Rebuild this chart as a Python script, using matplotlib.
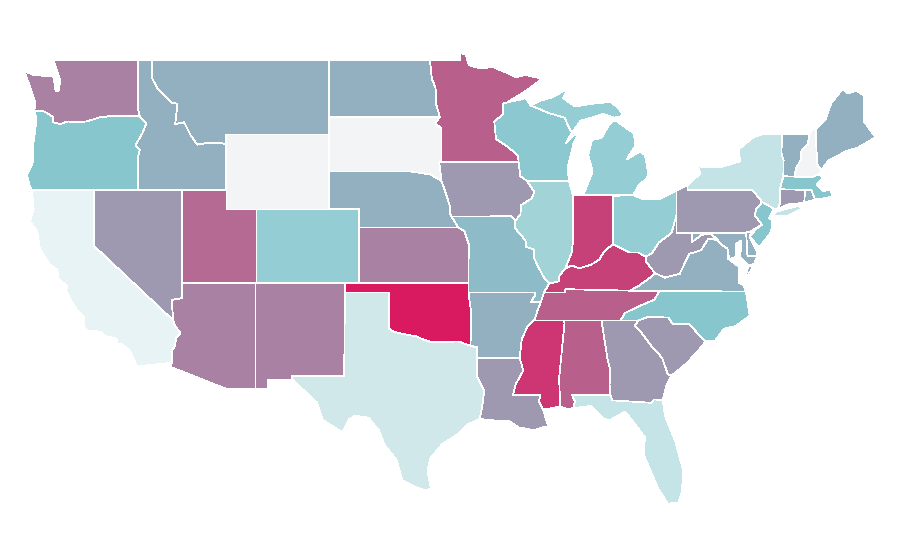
import matplotlib
matplotlib.use("Agg")
import matplotlib.pyplot as plt
from matplotlib.colors import LinearSegmentedColormap

# Choropleth values per state (read from the fill shade)
values = {
    "WA": 64, "OR": 40, "CA": 7, "NV": 56, "ID": 48, "MT": 48, "WY": 0, "UT": 72,
    "AZ": 64, "CO": 35, "NM": 64, "ND": 48, "SD": 0, "NE": 48, "KS": 64, "OK": 100,
    "TX": 16, "MN": 76, "IA": 56, "MO": 44, "AR": 48, "LA": 56, "WI": 39, "IL": 30,
    "IN": 86, "OH": 35, "MI": 35, "KY": 86, "TN": 76, "MS": 90, "AL": 76, "GA": 56,
    "FL": 20, "SC": 56, "NC": 40, "VA": 48, "WV": 56, "MD": 48, "DE": 48, "PA": 56,
    "NJ": 40, "NY": 21, "VT": 48, "NH": 0, "ME": 48, "MA": 40, "RI": 48, "CT": 56,
}

# State outlines as (longitude, latitude); a state may have several parts
shapes = {
    "WA": [[(-122.76,49),(-117.03,49),(-117.04,46.42),(-116.92,45.99),(-118.98,46),(-119.3,45.93),(-119.6,45.92),(-120.5,45.7),(-121.2,45.65),(-121.8,45.7),(-122.3,45.55),(-122.76,45.65),(-122.8,45.95),(-123.2,46.15),(-123.5,46.27),(-124.05,46.27),(-124,46.7),(-124.1,47),(-124.4,47.7),(-124.73,48.38),(-124,48.17),(-123.1,48.15),(-122.75,48.1),(-122.6,47.3),(-122.4,47.35),(-122.3,47.9),(-122.5,48.4)]],
    "OR": [[(-124.05,46.27),(-123.5,46.27),(-123.2,46.15),(-122.8,45.95),(-122.76,45.65),(-122.3,45.55),(-121.8,45.7),(-121.2,45.65),(-120.5,45.7),(-119.6,45.92),(-119.3,45.93),(-118.98,46),(-116.92,45.99),(-116.46,45.6),(-116.7,45.1),(-117.2,44.4),(-117.03,44.25),(-116.9,44.15),(-117.03,43.8),(-117.03,42),(-124.21,42),(-124.4,42.3),(-124.55,42.84),(-124.15,43.5),(-124.1,44.6),(-123.95,45.5),(-123.95,46)]],
    "CA": [[(-124.21,42),(-120,42),(-120,39),(-114.63,35),(-114.57,34.8),(-114.14,34.3),(-114.43,34.05),(-114.53,33.6),(-114.72,33.4),(-114.72,32.72),(-117.12,32.53),(-117.25,32.85),(-117.6,33.4),(-118.1,33.72),(-118.4,33.75),(-118.5,34.03),(-119.2,34.15),(-119.6,34.4),(-120.47,34.45),(-120.65,34.6),(-120.65,35.15),(-121.3,35.7),(-121.9,36.6),(-121.8,36.85),(-122.4,37.2),(-122.5,37.75),(-123,38),(-123.7,38.9),(-123.85,39.8),(-124.35,40.3),(-124.1,41)]],
    "NV": [[(-120,42),(-117.03,42),(-114.04,42),(-114.04,36.2),(-114.75,36.1),(-114.63,35),(-120,39)]],
    "ID": [[(-117.03,49),(-116.05,49),(-116.05,48),(-115.7,47.45),(-114.7,46.7),(-114.35,46.65),(-114.5,45.56),(-113.9,45.65),(-113.45,44.95),(-113,44.45),(-112.3,44.55),(-111.5,44.55),(-111.05,44.48),(-111.05,42),(-117.03,42),(-117.03,43.8),(-116.9,44.15),(-117.03,44.25),(-117.2,44.4),(-116.7,45.1),(-116.46,45.6),(-116.92,45.99),(-117.04,46.42)]],
    "MT": [[(-116.05,49),(-104.05,49),(-104.05,45),(-111.05,45),(-111.05,44.48),(-111.5,44.55),(-112.3,44.55),(-113,44.45),(-113.45,44.95),(-113.9,45.65),(-114.5,45.56),(-114.35,46.65),(-114.7,46.7),(-115.7,47.45),(-116.05,48)]],
    "WY": [[(-111.05,45),(-104.05,45),(-104.05,41),(-111.05,41)]],
    "UT": [[(-114.04,42),(-111.05,42),(-111.05,41),(-109.05,41),(-109.05,37),(-114.04,37)]],
    "CO": [[(-109.05,41),(-102.05,41),(-102.05,37),(-109.05,37)]],
    "AZ": [[(-114.04,37),(-109.05,37),(-109.05,31.33),(-111.07,31.33),(-114.81,32.5),(-114.72,32.72),(-114.72,33.4),(-114.53,33.6),(-114.43,34.05),(-114.14,34.3),(-114.57,34.8),(-114.63,35),(-114.75,36.1),(-114.04,36.2)]],
    "NM": [[(-109.05,37),(-103,37),(-103.04,32),(-106.62,32),(-106.53,31.78),(-108.2,31.78),(-108.2,31.33),(-109.05,31.33)]],
    "ND": [[(-104.05,49),(-97.23,49),(-97.1,48),(-96.85,47.5),(-96.8,46.6),(-96.56,45.94),(-104.05,45.94)]],
    "SD": [[(-104.05,45.94),(-96.56,45.94),(-96.85,45.6),(-96.45,45.3),(-96.45,43.5),(-96.6,43.5),(-96.44,42.49),(-97.2,42.85),(-98.5,43),(-104.05,43)]],
    "NE": [[(-104.05,43),(-98.5,43),(-97.2,42.85),(-96.44,42.49),(-96.1,41.7),(-95.9,41.2),(-95.85,40.7),(-95.31,40),(-102.05,40),(-102.05,41),(-104.05,41)]],
    "KS": [[(-102.05,40),(-95.31,40),(-94.9,39.8),(-94.6,39.1),(-94.62,37),(-102.05,37)]],
    "OK": [[(-103,37),(-94.62,37),(-94.43,35.4),(-94.48,33.64),(-95.3,33.87),(-96,33.85),(-96.6,33.85),(-97.2,33.85),(-97.7,33.98),(-98.1,34.13),(-99.2,34.3),(-99.7,34.4),(-100,34.56),(-100,36.5),(-103,36.5)]],
    "TX": [[(-106.62,32),(-103.04,32),(-103,36.5),(-100,36.5),(-100,34.56),(-99.7,34.4),(-99.2,34.3),(-98.1,34.13),(-97.7,33.98),(-97.2,33.85),(-96.6,33.85),(-96,33.85),(-95.3,33.87),(-94.48,33.64),(-94.04,33.55),(-94.04,33),(-94.04,31.99),(-93.55,31.2),(-93.7,30.3),(-93.85,29.7),(-94.7,29.4),(-95.3,28.9),(-96.4,28.35),(-97.2,27.6),(-97.4,26.9),(-97.15,25.96),(-97.55,25.85),(-98.2,26.05),(-99.1,26.4),(-99.5,27.5),(-100.3,28.3),(-100.7,29.1),(-101.4,29.77),(-102.3,29.88),(-102.7,29.7),(-103.15,28.98),(-104.5,29.65),(-104.9,30.6),(-106,31.4),(-106.53,31.78)]],
    "MN": [[(-97.23,49),(-95.15,49),(-95.15,49.38),(-94.8,49.3),(-94.6,48.72),(-93.8,48.55),(-92.95,48.62),(-92,48.3),(-91.4,48.07),(-90.8,48.2),(-89.6,48),(-90.8,47.3),(-92,46.72),(-92.29,46.66),(-92.29,46.07),(-92.87,45.7),(-92.75,44.75),(-91.9,44.3),(-91.25,43.85),(-91.22,43.5),(-96.45,43.5),(-96.45,45.3),(-96.85,45.6),(-96.56,45.94),(-96.8,46.6),(-96.85,47.5),(-97.1,48)]],
    "IA": [[(-96.45,43.5),(-91.22,43.5),(-91.1,42.75),(-90.65,42.5),(-90.15,41.9),(-90.35,41.55),(-91.05,41.2),(-91.1,40.7),(-91.42,40.38),(-91.7,40.6),(-95.77,40.58),(-95.85,40.7),(-95.9,41.2),(-96.1,41.7),(-96.44,42.49),(-96.6,43.5)]],
    "MO": [[(-95.77,40.58),(-91.7,40.6),(-91.42,40.38),(-91.5,40),(-90.75,39.3),(-90.7,38.95),(-90.15,38.8),(-90.2,38.4),(-89.9,37.9),(-89.5,37.3),(-89.15,36.98),(-89.5,36.5),(-89.7,36),(-90.37,36),(-90.07,36.4),(-90.15,36.5),(-94.62,36.5),(-94.62,37),(-94.6,39.1),(-94.9,39.8),(-95.31,40)]],
    "AR": [[(-94.62,36.5),(-90.15,36.5),(-90.07,36.4),(-90.37,36),(-89.7,36),(-89.95,35.5),(-90.1,35.1),(-90.6,34.7),(-91,34),(-91.15,33),(-94.04,33),(-94.04,33.55),(-94.48,33.64),(-94.43,35.4)]],
    "LA": [[(-94.04,33),(-91.15,33),(-90.9,32.3),(-91.4,31.6),(-91.6,31),(-89.73,31),(-89.85,30.65),(-89.55,30.2),(-89.4,29.8),(-89.2,29.3),(-89.6,29.25),(-90.2,29.1),(-91.2,29.25),(-91.9,29.6),(-92.6,29.6),(-93.85,29.7),(-93.7,30.3),(-93.55,31.2),(-94.04,31.99)]],
    "WI": [[(-92.29,46.66),(-92,46.72),(-91.2,46.85),(-90.75,46.95),(-90.4,46.55),(-89.1,46.13),(-88.1,45.9),(-87.8,45.35),(-87.6,45.1),(-88,44.55),(-87.05,45.25),(-87.5,44.5),(-87.9,43.2),(-87.8,42.5),(-90.65,42.5),(-91.1,42.75),(-91.22,43.5),(-91.25,43.85),(-91.9,44.3),(-92.75,44.75),(-92.87,45.7),(-92.29,46.07)]],
    "IL": [[(-90.65,42.5),(-87.8,42.5),(-87.53,41.7),(-87.53,39.35),(-87.6,38.7),(-87.95,38),(-88.05,37.8),(-88.45,37.4),(-88.5,37.1),(-89.15,36.98),(-89.5,37.3),(-89.9,37.9),(-90.2,38.4),(-90.15,38.8),(-90.7,38.95),(-90.75,39.3),(-91.5,40),(-91.42,40.38),(-91.1,40.7),(-91.05,41.2),(-90.35,41.55),(-90.15,41.9)]],
    "IN": [[(-87.53,41.7),(-87.2,41.76),(-86.82,41.76),(-84.8,41.76),(-84.82,39.1),(-85.4,38.73),(-85.75,38.27),(-86.3,38),(-87.1,37.8),(-87.6,37.95),(-88.05,37.8),(-87.95,38),(-87.6,38.7),(-87.53,39.35)]],
    "OH": [[(-84.8,41.7),(-83.45,41.73),(-82.7,41.5),(-81.7,41.5),(-80.52,41.98),(-80.52,40.64),(-80.85,39.7),(-81.7,39.2),(-82.2,38.6),(-82.6,38.42),(-83.1,38.65),(-83.7,38.65),(-84.82,39.1)]],
    "MI": [[(-86.82,41.76),(-84.8,41.76),(-83.45,41.73),(-83.1,42.25),(-82.5,42.65),(-82.45,43),(-82.65,43.9),(-83,44.07),(-83.9,43.65),(-83.3,44.4),(-83.4,45.05),(-84.7,45.78),(-85.1,45.5),(-85.6,44.8),(-86.25,44.7),(-86.5,43.9),(-86.2,43),(-86.6,42.2)],
           [(-90.4,46.55),(-89.1,46.13),(-88.1,45.9),(-87.8,45.35),(-87.6,45.1),(-87,45.75),(-86.5,45.85),(-85.5,46.1),(-84.75,45.9),(-84.1,46),(-84.5,46.45),(-85,46.75),(-86.2,46.65),(-87.4,46.5),(-88.2,46.95),(-87.9,47.45),(-88.9,47),(-89.8,46.8)],
           [(-89.2,47.85),(-88.6,48.15),(-88.9,47.9)]],
    "KY": [[(-89.5,36.5),(-88.07,36.5),(-88.05,36.68),(-83.68,36.6),(-83.1,36.85),(-82.3,37.3),(-81.97,37.54),(-82.6,38.17),(-82.6,38.42),(-83.1,38.65),(-83.7,38.65),(-84.82,39.1),(-85.4,38.73),(-85.75,38.27),(-86.3,38),(-87.1,37.8),(-87.6,37.95),(-88.05,37.8),(-88.45,37.4),(-88.5,37.1),(-89.15,36.98)]],
    "TN": [[(-90.1,35),(-88.2,35),(-85.6,35),(-84.32,34.99),(-84,35.4),(-83.1,35.75),(-82,36.12),(-81.68,36.59),(-83.68,36.6),(-88.05,36.68),(-88.07,36.5),(-89.5,36.5),(-89.7,36),(-89.95,35.5),(-90.1,35.1)]],
    "MS": [[(-90.1,35),(-88.2,35),(-88.1,34.9),(-88.47,31.9),(-88.4,30.37),(-89.55,30.2),(-89.85,30.65),(-89.73,31),(-91.6,31),(-91.4,31.6),(-90.9,32.3),(-91.15,33),(-91,34),(-90.6,34.7),(-90.1,35.1)]],
    "AL": [[(-88.2,35),(-85.6,35),(-85.18,32.87),(-85,32.3),(-85.05,31.55),(-85,31),(-87.6,31),(-87.4,30.65),(-87.52,30.28),(-88,30.25),(-88.4,30.37),(-88.47,31.9),(-88.1,34.9)]],
    "GA": [[(-85.6,35),(-84.32,34.99),(-83.1,35),(-83.35,34.7),(-83,34.45),(-82.2,33.6),(-81.5,33),(-81.1,32.1),(-80.85,32.03),(-81.2,31.5),(-81.45,30.72),(-82.05,30.75),(-82.2,30.57),(-84.85,30.7),(-85,31),(-85.05,31.55),(-85,32.3),(-85.18,32.87)]],
    "FL": [[(-87.6,31),(-85,31),(-84.85,30.7),(-82.2,30.57),(-82.05,30.75),(-81.45,30.72),(-81.3,29.9),(-80.6,28.5),(-80.05,26.9),(-80.15,25.75),(-80.4,25.2),(-81.1,25.15),(-81.75,25.95),(-82.15,26.7),(-82.75,27.8),(-82.65,28.7),(-83.3,29.4),(-84,30.1),(-85,29.65),(-85.4,29.7),(-86.3,30.4),(-87.52,30.28),(-87.4,30.65)]],
    "SC": [[(-83.1,35),(-82.4,35.2),(-81.05,35.15),(-80.8,34.82),(-79.67,34.8),(-78.55,33.87),(-79.1,33.3),(-79.9,32.65),(-80.85,32.03),(-81.1,32.1),(-81.5,33),(-82.2,33.6),(-83,34.45),(-83.35,34.7)]],
    "NC": [[(-84.32,34.99),(-83.1,35),(-82.4,35.2),(-81.05,35.15),(-80.8,34.82),(-79.67,34.8),(-78.55,33.87),(-77.9,33.9),(-77.3,34.55),(-76.5,34.7),(-75.55,35.25),(-75.8,36.55),(-81.68,36.59),(-82,36.12),(-83.1,35.75),(-84,35.4)]],
    "VA": [[(-83.68,36.6),(-81.68,36.59),(-75.8,36.55),(-76,36.95),(-76.3,37),(-76.3,37.9),(-77,38.3),(-77.05,38.85),(-77.5,39.1),(-77.72,39.32),(-78.35,39.4),(-78.85,38.77),(-79.65,38.58),(-80.3,37.5),(-81.3,37.3),(-81.97,37.54),(-82.3,37.3),(-83.1,36.85)],
           [(-75.9,37.15),(-75.3,37.9),(-75.65,37.95)]],
    "WV": [[(-81.97,37.54),(-81.3,37.3),(-80.3,37.5),(-79.65,38.58),(-78.85,38.77),(-78.35,39.4),(-77.72,39.32),(-78.2,39.68),(-78.8,39.6),(-79.48,39.21),(-79.48,39.72),(-80.52,39.72),(-80.52,40.64),(-80.85,39.7),(-81.7,39.2),(-82.2,38.6),(-82.6,38.42),(-82.6,38.17)]],
    "MD": [[(-79.48,39.72),(-75.79,39.72),(-75.7,38.46),(-75.05,38.45),(-75.25,38.03),(-75.65,37.95),(-76.2,38.4),(-76.1,39.3),(-76.5,39.1),(-76.5,38.4),(-76.95,38.3),(-77.05,38.85),(-77.5,39.1),(-77.72,39.32),(-78.2,39.68),(-78.8,39.6),(-79.48,39.21)]],
    "DE": [[(-75.79,39.72),(-75.45,39.8),(-75.55,39.45),(-75.1,38.8),(-75.05,38.45),(-75.7,38.46)]],
    "PA": [[(-80.52,41.98),(-79.76,42.27),(-79.76,42),(-75.35,42),(-74.7,41.36),(-75.13,40.97),(-75.2,40.65),(-74.72,40.15),(-75.45,39.8),(-75.79,39.72),(-80.52,39.72)]],
    "NJ": [[(-74.7,41.36),(-73.9,41),(-74.25,40.5),(-74,40.4),(-74.1,39.75),(-74.9,38.93),(-75.55,39.5),(-75.13,39.9),(-74.72,40.15),(-75.2,40.65),(-75.13,40.97)]],
    "NY": [[(-79.76,42.27),(-78.9,42.9),(-79.05,43.27),(-77.5,43.25),(-76.2,43.55),(-76.3,44.2),(-75.3,44.85),(-74.7,45),(-73.35,45.01),(-73.4,44),(-73.25,43.6),(-73.27,42.75),(-73.5,42.05),(-73.5,41.3),(-73.65,41),(-73.9,41),(-74.7,41.36),(-75.35,42),(-79.76,42)],
           [(-74,40.6),(-73.75,40.85),(-72.3,41.15),(-71.9,41.05),(-73,40.6)]],
    "VT": [[(-73.35,45.01),(-71.5,45.01),(-71.6,44.5),(-72.05,44.1),(-72.05,43.7),(-72.45,43.1),(-72.46,42.73),(-73.27,42.75),(-73.25,43.6),(-73.4,44)]],
    "NH": [[(-71.5,45.01),(-71.3,45.3),(-71.08,45.3),(-70.98,43.4),(-70.7,43.07),(-70.82,42.87),(-71.3,42.7),(-72.46,42.73),(-72.45,43.1),(-72.05,43.7),(-72.05,44.1),(-71.6,44.5)]],
    "ME": [[(-71.08,45.3),(-70.4,45.8),(-70.25,46.2),(-70,46.7),(-69.23,47.46),(-68.9,47.2),(-68.3,47.35),(-67.8,47.07),(-67.8,45.7),(-67.45,45.3),(-67,44.85),(-68.2,44.3),(-69,44.1),(-70.2,43.6),(-70.7,43.07),(-70.98,43.4)]],
    "MA": [[(-73.5,42.05),(-73.27,42.75),(-72.46,42.73),(-71.3,42.7),(-70.82,42.87),(-70.6,42.65),(-71,42.3),(-70.6,41.95),(-70.05,42.05),(-70,41.8),(-69.95,41.65),(-70.6,41.55),(-71.12,41.5),(-71.38,42.02),(-71.8,42.02),(-72.8,42.03)]],
    "RI": [[(-71.8,42.02),(-71.38,42.02),(-71.12,41.5),(-71.85,41.32)]],
    "CT": [[(-73.5,42.05),(-71.8,42.02),(-71.85,41.32),(-72.9,41.25),(-73.65,41),(-73.5,41.3)]],
}

scale_stops = [(0.0, "#f3f4f6"), (0.07, "#e6f3f5"), (0.16, "#cfe8ea"), (0.21, "#c2e3e7"),
               (0.30, "#a0d3d7"), (0.40, "#88c6ce"), (1.0, "#da1a60")]
cmap = LinearSegmentedColormap.from_list("shade", scale_stops)

fig = plt.figure(figsize=(9, 5.6), dpi=100, facecolor="white")
ax = fig.add_axes([0, 0, 1, 1])
for state, parts in shapes.items():
    for part in parts:
        lon, lat = zip(*part)
        ax.fill(lon, lat, facecolor=cmap(values[state] / 100), edgecolor="white",
                linewidth=0.55, antialiased=False, joinstyle="round")
ax.set_xlim(-126.38, -65.36)
ax.set_ylim(22.12, 52.226)
ax.axis("off")
fig.savefig("out.png", dpi=100, facecolor="white")
